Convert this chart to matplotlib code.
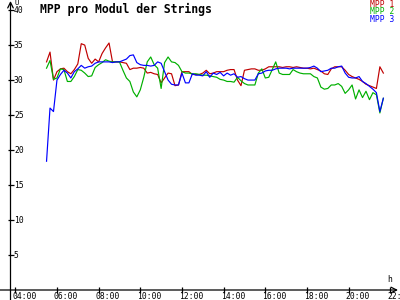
import numpy as np
import pandas as pd
import matplotlib
matplotlib.use('Agg')
import matplotlib.pyplot as plt

# readings every 10 minutes, 05:30 .. 21:40
times = pd.date_range('2020-01-01 05:30', '2020-01-01 21:40', freq='10min')
hours = times.hour + times.minute / 60.0

mpp1 = [32.6, 34.0, 30.0, 31.2, 31.6, 31.7, 31.2, 30.9, 31.5, 32.3,
        35.2, 35.0, 33.1, 32.4, 33.0, 32.6, 33.8, 34.6, 35.3, 32.6,
        32.6, 32.6, 32.5, 32.4, 31.5, 31.7, 31.7, 31.8, 31.7, 31.0,
        31.1, 30.9, 30.8, 29.6, 30.3, 31.0, 30.9, 29.2, 29.3, 31.2,
        31.2, 31.2, 30.8, 30.8, 30.8, 31.0, 31.4, 30.9, 31.0, 31.2,
        31.2, 31.2, 31.4, 31.5, 31.5, 30.0, 29.2, 31.4, 31.5, 31.6,
        31.6, 31.4, 31.4, 31.6, 31.9, 31.9, 31.9, 31.9, 31.8, 31.9,
        31.9, 31.8, 31.9, 31.8, 31.7, 31.7, 31.6, 31.7, 31.5, 31.3,
        30.9, 30.8, 31.6, 31.9, 31.9, 31.9, 31.4, 30.8, 30.5, 30.3,
        30.1, 29.8, 29.4, 29.2, 29.0, 28.8, 31.9, 31.0]

mpp2 = [31.7, 32.8, 30.1, 30.3, 31.6, 31.5, 29.8, 29.8, 30.5, 31.5,
        31.4, 31.0, 30.5, 30.6, 31.8, 32.2, 32.5, 32.9, 32.7, 32.6,
        32.6, 32.6, 31.4, 30.3, 29.8, 28.3, 27.6, 28.6, 30.4, 32.6,
        33.3, 32.2, 31.7, 28.8, 32.5, 33.3, 32.6, 32.5, 32.1, 31.2,
        31.0, 31.0, 30.9, 30.9, 30.8, 30.7, 30.7, 30.6, 30.5, 30.4,
        30.1, 30.0, 29.8, 29.8, 29.7, 30.4, 29.9, 29.5, 29.3, 29.3,
        29.3, 31.0, 31.6, 30.3, 30.4, 31.5, 32.6, 31.0, 30.8, 30.8,
        30.8, 31.5, 31.2, 31.0, 30.9, 30.9, 30.9, 30.5, 30.3, 29.0,
        28.7, 28.8, 29.3, 29.3, 29.5, 29.1, 28.1, 28.6, 29.3, 27.3,
        28.6, 27.5, 28.4, 27.2, 28.2, 27.9, 25.3, 27.4]

mpp3 = [18.4, 26.0, 25.5, 30.0, 30.8, 31.4, 31.0, 30.3, 31.2, 31.6,
        32.1, 31.7, 31.9, 32.0, 32.4, 32.6, 32.6, 32.6, 32.6, 32.5,
        32.6, 32.6, 32.8, 33.0, 33.5, 33.6, 32.5, 32.2, 32.1, 32.1,
        32.0, 32.1, 32.6, 32.4, 31.2, 30.0, 29.4, 29.3, 29.3, 31.0,
        29.6, 29.6, 30.9, 30.7, 30.7, 30.6, 31.2, 30.4, 31.0, 30.8,
        31.1, 30.6, 31.0, 30.7, 30.9, 30.4, 30.5, 30.2, 30.0, 30.0,
        30.0, 30.9, 31.0, 31.3, 31.4, 31.4, 31.6, 31.7, 31.7, 31.7,
        31.6, 31.7, 31.7, 31.7, 31.7, 31.7, 31.8, 32.0, 31.7, 31.2,
        31.3, 31.4, 31.7, 31.7, 31.9, 32.0, 31.0, 30.4, 30.3, 30.3,
        30.5, 29.8, 29.5, 29.1, 28.7, 28.2, 25.5, 27.4]

labels = ['MPP 1', 'MPP 2', 'MPP 3']
colors = ['#c00000', '#00b000', '#0000ff']
yticks = [5, 10, 15, 20, 25, 30, 35, 40]
xticks = [4, 6, 8, 10, 12, 14, 16, 18, 20, 22]

plt.rcParams['font.family'] = 'DejaVu Sans Mono'

fig = plt.figure(figsize=(4, 3), dpi=100)
ax = fig.add_axes([10.5 / 400, 10 / 300, 387.5 / 400, 289 / 300])
ax.set_xlim(3.77, 22.37)
ax.set_ylim(0, 41.3)

for vals, c in zip([mpp1, mpp2, mpp3], colors):
    ax.plot(hours, vals, color=c, lw=0.85)

for s in ax.spines.values():
    s.set_visible(False)

# axes with arrows
ax.annotate('', xy=(1.0, 0), xytext=(-0.03, 0), xycoords='axes fraction',
            arrowprops=dict(arrowstyle='->', lw=0.9, color='black',
                            shrinkA=0, shrinkB=0))
ax.annotate('', xy=(0, 1.0), xytext=(0, -0.04), xycoords='axes fraction',
            arrowprops=dict(arrowstyle='->', lw=0.9, color='black',
                            shrinkA=0, shrinkB=0))

ax.set_xticks(xticks)
ax.set_yticks(yticks)
ax.tick_params(direction='inout', length=4, width=0.9,
               labelbottom=False, labelleft=False)

fs = 5.8
for v in yticks:
    ax.annotate(str(v), xy=(0, v), xycoords=('axes fraction', 'data'),
                xytext=(2.5, 0), textcoords='offset points',
                ha='left', va='center', fontsize=fs)
for h in xticks:
    ax.annotate('%02d:00' % h, xy=(h, 0), xycoords=('data', 'axes fraction'),
                xytext=(-2.2, -1.2), textcoords='offset points',
                ha='left', va='top', fontsize=fs, annotation_clip=False)

ax.annotate('U', xy=(0, 1), xycoords='axes fraction', xytext=(3, 0.8),
            textcoords='offset points', ha='left', va='top', fontsize=5.2)
ax.annotate('h', xy=(22, 0), xycoords=('data', 'axes fraction'),
            xytext=(-2, 4), textcoords='offset points', ha='left',
            va='bottom', fontsize=fs)

fig.text(0.1, 0.97, 'MPP pro Modul der Strings', fontsize=8.3,
         fontweight='bold', ha='left', va='center')
for i, (lab, c) in enumerate(zip(labels, colors)):
    fig.text(0.987, 1 - (4.5 + 7.5 * i) / 300, lab, color=c, fontsize=fs,
             ha='right', va='center')

fig.savefig('out.png', dpi=100, facecolor='white')
